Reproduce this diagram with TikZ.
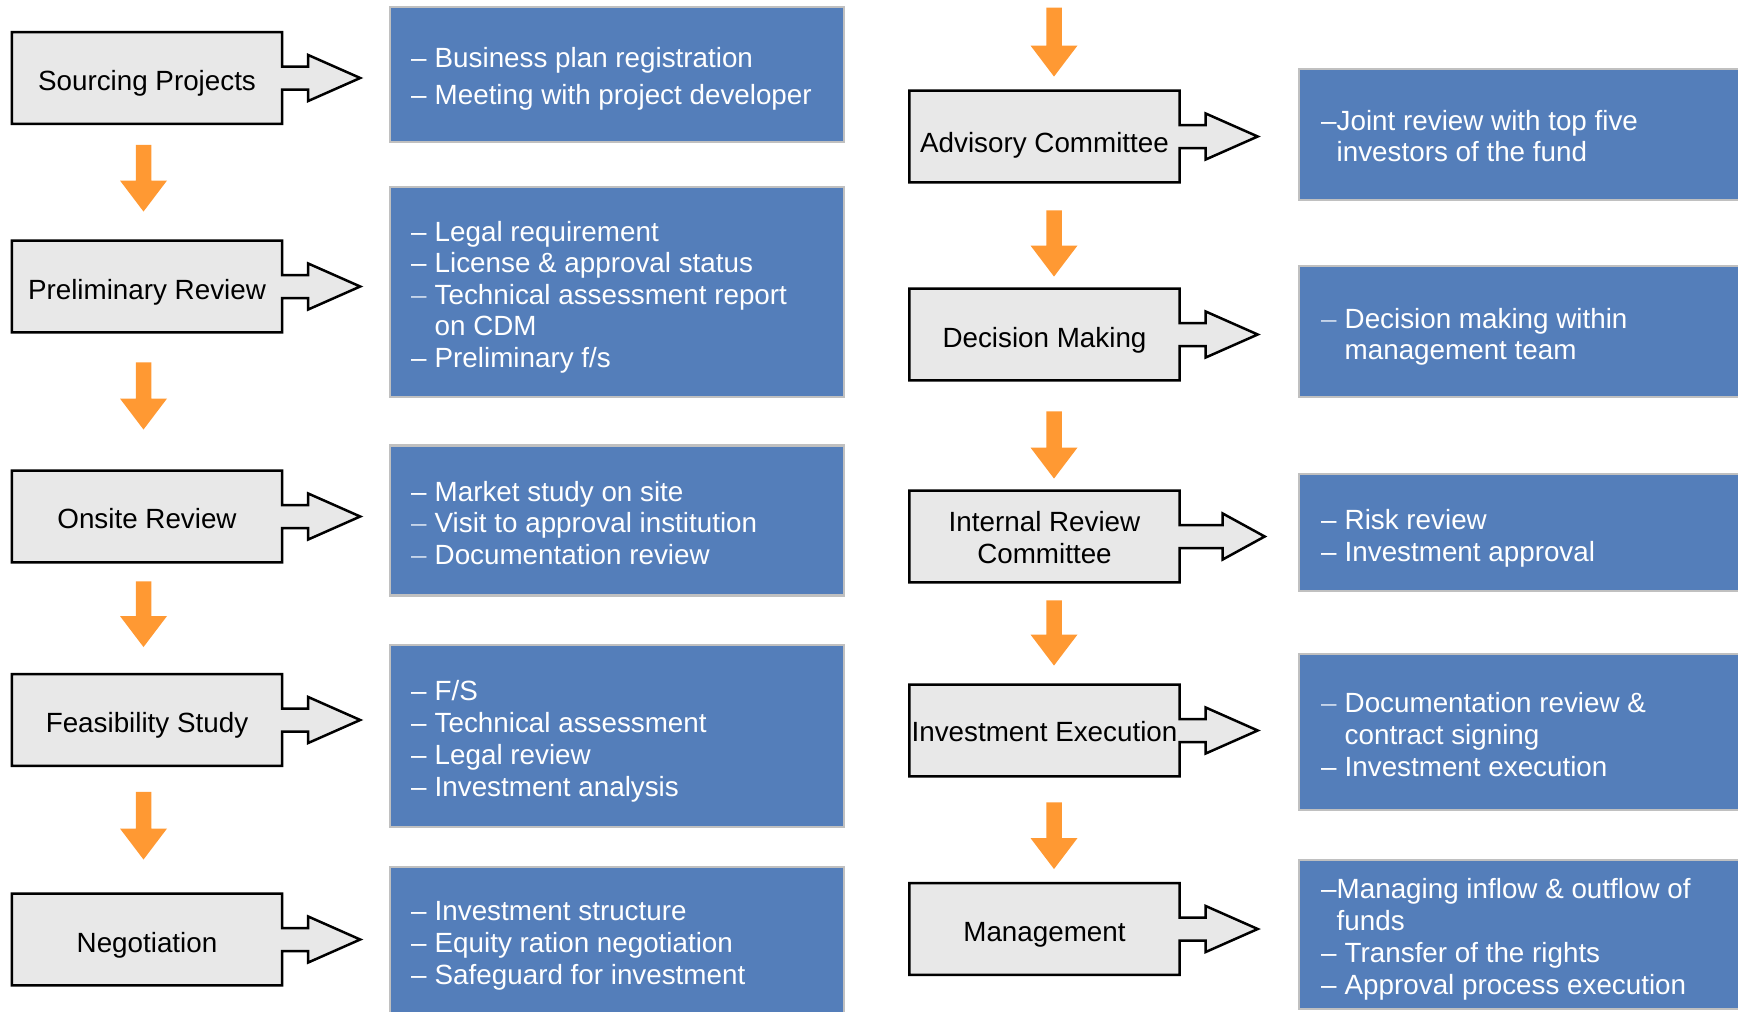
\documentclass[tikz,border=0pt]{standalone}
\usepackage{fontspec}
\setmainfont{Liberation Sans}
\usetikzlibrary{calc,backgrounds}

\definecolor{stagegray}{RGB}{232,232,232}
\definecolor{infoblue}{RGB}{84,126,186}
\definecolor{infoedge}{RGB}{192,192,192}
\definecolor{flowor}{RGB}{255,153,51}
\definecolor{dashlight}{RGB}{200,214,234}

\newcommand\bodyfont{\fontsize{27.8pt}{32pt}\selectfont}
% bullet lines: dash + text, continuation lines, light dashes, tight dashes
\newcommand\itm[1]{\hbox{\makebox[23.5pt][l]{–}#1}}
\newcommand\itl[1]{\hbox{\makebox[23.5pt][l]{\color{dashlight}–}#1}}
\newcommand\cnt[1]{\hbox{\hspace*{23.5pt}#1}}
\newcommand\itt[1]{\hbox{\makebox[15.5pt][l]{–}#1}}
\newcommand\ctt[1]{\hbox{\hspace*{15.5pt}#1}}
\newcommand\txtlines[2]{\vtop{\baselineskip=#1pt\lineskiplimit=-100pt\relax #2}}

% outline of a stage box with its block arrow: node, stem length, head length
\newcommand\stageshape[3]{%
  \filldraw[stageline] (#1.north west) -- (#1.north east)
    -- ($(#1.east)+(0,-11.5)$) -- ++(#2,0) -- ++(0,-11.5)
    -- ($(#1.east)+(#2+#3,0)$)
    -- ($(#1.east)+(#2,23)$) -- ++(0,-11.5)
    -- ($(#1.east)+(0,11.5)$) -- (#1.south east) -- (#1.south west) -- cycle;}

% orange flow arrow from tail coordinate to tip coordinate
\newcommand\flow[2]{%
  \fill[flowor] ($(#1)+(-7.75,0)$) -- ($(#2)+(-7.75,-31)$) -- ($(#2)+(-23.5,-31)$)
    -- (#2) -- ($(#2)+(23.5,-31)$) -- ($(#2)+(7.75,-31)$) -- ($(#1)+(7.75,0)$) -- cycle;}

\tikzset{
  stage/.style={minimum width=270pt, minimum height=91.5pt, inner sep=0pt,
    align=center, font=\bodyfont, text=black},
  oneline/.style={text height=25pt, text depth=0pt},
  stageline/.style={fill=stagegray, draw=black, line width=2.5pt, line join=miter},
  infobox/.style={fill=infoblue, draw=infoedge, line width=2.5pt, inner sep=0pt},
  infotext/.style={anchor=base west, inner sep=0pt, font=\bodyfont, text=white},
}

\begin{document}
\begin{tikzpicture}[x=1pt,y=-1pt]
\useasboundingbox (0,0) rectangle (1738,1012);

% ---- left column stages
\node[stage, oneline] (L1) at (147,78)    {Sourcing Projects};
\node[stage, oneline] (L2) at (147,286.5) {Preliminary Review};
\node[stage, oneline, text height=23pt] (L3) at (147,516.5) {Onsite Review};
\node[stage, oneline] (L4) at (147,720)   {Feasibility Study};
\node[stage, oneline] (L5) at (147,939.5) {Negotiation};

% ---- right column stages
\node[stage, oneline, text height=31pt] (R1) at (1044.5,136.5) {Advisory Committee};
\node[stage, oneline] (R2) at (1044.5,334.5) {Decision Making};
\node[stage, text height=53pt, text depth=0pt] (R3) at (1044.5,536.5)
  {\begin{tabular}[b]{@{}c@{}}Internal Review\\Committee\end{tabular}};
\node[stage, oneline, text height=22pt] (R4) at (1044.5,730.5) {Investment Execution};
\node[stage, oneline] (R5) at (1044.5,929)   {Management};

\begin{scope}[on background layer]
  \fill[white] (0,0) rectangle (1738,1012);
  \stageshape{L1}{26}{52}
  \stageshape{L2}{26}{52}
  \stageshape{L3}{26}{52}
  \stageshape{L4}{26}{52}
  \stageshape{L5}{26}{52}
  \stageshape{R1}{26}{52}
  \stageshape{R2}{26}{52}
  \stageshape{R3}{43}{42}
  \stageshape{R4}{26}{52}
  \stageshape{R5}{26}{52}
\end{scope}

% ---- detail boxes, left column
\node[infobox, minimum width=454pt, minimum height=135pt] (B1) at (617,74.5) {};
\node[infobox, minimum width=454pt, minimum height=210pt] (B2) at (617,292) {};
\node[infobox, minimum width=454pt, minimum height=150pt] (B3) at (617,520.5) {};
\node[infobox, minimum width=454pt, minimum height=182pt] (B4) at (617,736) {};
\node[infobox, minimum width=454pt, minimum height=170pt] (B5) at (617,952) {};

% ---- detail boxes, right column (running past the right edge)
\node[infobox, minimum width=461pt, minimum height=131pt] (C1) at (1529.5,134.5) {};
\node[infobox, minimum width=461pt, minimum height=131pt] (C2) at (1529.5,331.5) {};
\node[infobox, minimum width=461pt, minimum height=117pt] (C3) at (1529.5,532.5) {};
\node[infobox, minimum width=461pt, minimum height=156pt] (C4) at (1529.5,732) {};
\node[infobox, minimum width=461pt, minimum height=149pt] (C5) at (1529.5,934.5) {};

% ---- detail texts
\node[infotext] (tB1) at (411,67) {\txtlines{37.5}{%
  \itm{Business plan registration}\itm{Meeting with project developer}}};
\node[infotext] (tB2) at (411,241) {\txtlines{31.5}{%
  \itm{Legal requirement}\itm{License \& approval status}%
  \itl{Technical assessment report}\cnt{on CDM}\itm{Preliminary f/s}}};
\node[infotext] (tB3) at (411,501) {\txtlines{31.5}{%
  \itm{Market study on site}\itl{Visit to approval institution}%
  \itl{Documentation review}}};
\node[infotext] (tB4) at (411,700) {\txtlines{32}{%
  \itm{F/S}\itm{Technical assessment}\itm{Legal review}\itm{Investment analysis}}};
\node[infotext] (tB5) at (411,920) {\txtlines{32}{%
  \itm{Investment structure}\itm{Equity ration negotiation}%
  \itm{Safeguard for investment}}};

\node[infotext] (tC1) at (1321,130) {\txtlines{31.5}{%
  \itt{Joint review with top five}\ctt{investors of the fund}}};
\node[infotext] (tC2) at (1321,328) {\txtlines{31.5}{%
  \itl{Decision making within}\cnt{management team}}};
\node[infotext] (tC3) at (1321,529) {\txtlines{32}{%
  \itm{Risk review}\itm{Investment approval}}};
\node[infotext] (tC4) at (1321,712) {\txtlines{32}{%
  \itl{Documentation review \&}\cnt{contract signing}\itm{Investment execution}}};
\node[infotext] (tC5) at (1321,898) {\txtlines{32}{%
  \itt{Managing inflow \& outflow of}\ctt{funds}%
  \itm{Transfer of the rights}\itm{Approval process execution}}};

% ---- orange flow arrows, left column
\coordinate (a1s) at ($(L1.south)+(-3.5,21)$);
\coordinate (a1e) at ($(L2.north)+(-3.5,-29)$);
\coordinate (a2s) at ($(L2.south)+(-3.5,30)$);
\coordinate (a2e) at ($(L3.north)+(-3.5,-41)$);
\coordinate (a3s) at ($(L3.south)+(-3.5,19)$);
\coordinate (a3e) at ($(L4.north)+(-3.5,-27)$);
\coordinate (a4s) at ($(L4.south)+(-3.5,26)$);
\coordinate (a4e) at ($(L5.north)+(-3.5,-34)$);
\flow{a1s}{a1e}
\flow{a2s}{a2e}
\flow{a3s}{a3e}
\flow{a4s}{a4e}

% ---- orange flow arrows, right column
\coordinate (r0s) at ($(R1.north)+(9.5,-83)$);
\coordinate (r0e) at ($(R1.north)+(9.5,-14)$);
\coordinate (r1s) at ($(R1.south)+(9.5,28)$);
\coordinate (r1e) at ($(R2.north)+(9.5,-12)$);
\coordinate (r2s) at ($(R2.south)+(9.5,31)$);
\coordinate (r2e) at ($(R3.north)+(9.5,-12)$);
\coordinate (r3s) at ($(R3.south)+(9.5,18)$);
\coordinate (r3e) at ($(R4.north)+(9.5,-19)$);
\coordinate (r4s) at ($(R4.south)+(9.5,26)$);
\coordinate (r4e) at ($(R5.north)+(9.5,-14)$);
\flow{r0s}{r0e}
\flow{r1s}{r1e}
\flow{r2s}{r2e}
\flow{r3s}{r3e}
\flow{r4s}{r4e}
\end{tikzpicture}
\end{document}
